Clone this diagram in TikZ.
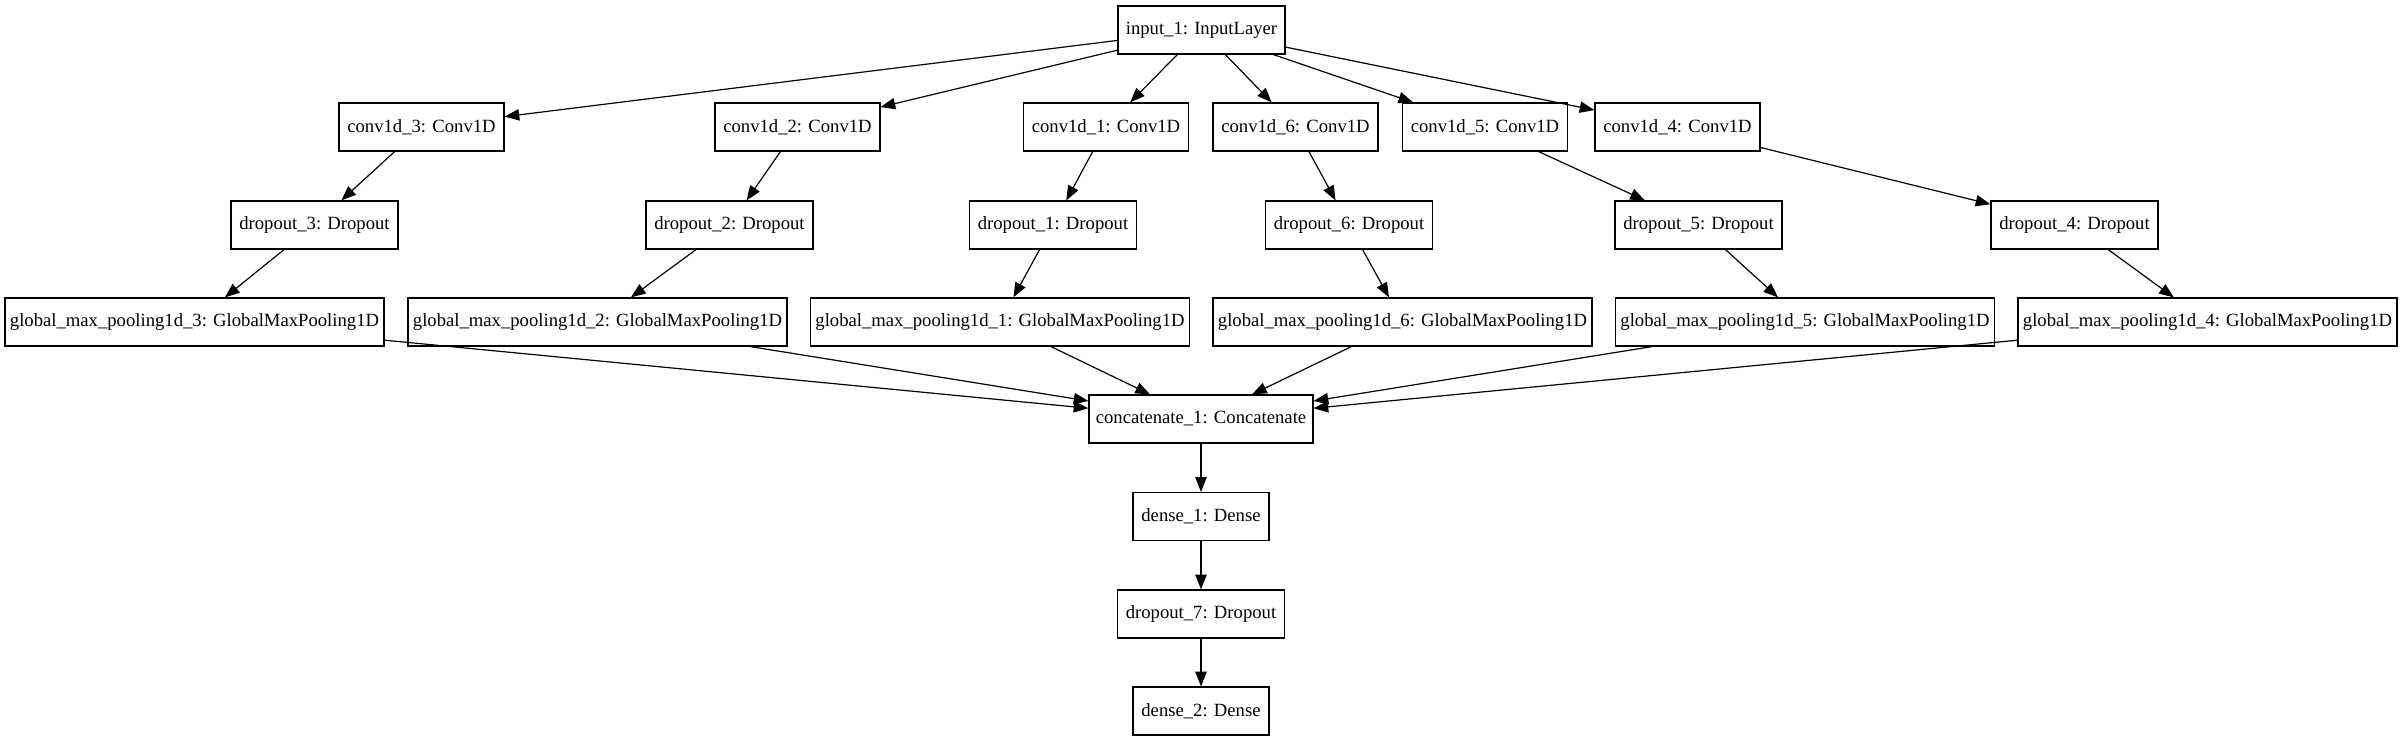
\documentclass[tikz,border=0pt]{standalone}
\usepackage{fontspec}
\setmainfont{Liberation Serif}
\usetikzlibrary{arrows.meta}
\tikzset{
  layer/.style={draw, line width=0.9pt, rectangle, inner sep=0pt, minimum height=36pt, font=\fontsize{14pt}{16pt}\selectfont},
  wconv/.style={layer, minimum width=123.75pt},
  wdrop/.style={layer, minimum width=125.25pt},
  wgmp/.style={layer, minimum width=284.25pt},
  wcat/.style={layer, minimum width=168pt},
  wdense/.style={layer, minimum width=102pt},
  edge/.style={line width=0.9pt, -{Triangle[length=11pt,width=8.5pt]}}
}
\begin{document}
\begin{tikzpicture}[x=0.75pt,y=-0.75pt]
\useasboundingbox (0,0) rectangle (2403,741);
\node[wdrop] (input) at (1201.5,30) {input\_1: InputLayer};
\node[wconv] (c3) at (421.5,127) {conv1d\_3: Conv1D};
\node[wconv] (c2) at (797.5,127) {conv1d\_2: Conv1D};
\node[wconv] (c1) at (1106,127) {conv1d\_1: Conv1D};
\node[wconv] (c6) at (1295.5,127) {conv1d\_6: Conv1D};
\node[wconv] (c5) at (1485,127) {conv1d\_5: Conv1D};
\node[wconv] (c4) at (1677.5,127) {conv1d\_4: Conv1D};
\node[wdrop] (d3) at (314.5,225) {dropout\_3: Dropout};
\node[wdrop] (d2) at (729.5,225) {dropout\_2: Dropout};
\node[wdrop] (d1) at (1053,225) {dropout\_1: Dropout};
\node[wdrop] (d6) at (1349,225) {dropout\_6: Dropout};
\node[wdrop] (d5) at (1698.5,225) {dropout\_5: Dropout};
\node[wdrop] (d4) at (2074.5,225) {dropout\_4: Dropout};
\node[wgmp] (g3) at (194.5,322) {global\_max\_pooling1d\_3: GlobalMaxPooling1D};
\node[wgmp] (g2) at (597.5,322) {global\_max\_pooling1d\_2: GlobalMaxPooling1D};
\node[wgmp] (g1) at (1000,322) {global\_max\_pooling1d\_1: GlobalMaxPooling1D};
\node[wgmp] (g6) at (1402.5,322) {global\_max\_pooling1d\_6: GlobalMaxPooling1D};
\node[wgmp] (g5) at (1805,322) {global\_max\_pooling1d\_5: GlobalMaxPooling1D};
\node[wgmp] (g4) at (2207.5,322) {global\_max\_pooling1d\_4: GlobalMaxPooling1D};
\node[wcat] (cat) at (1201,419) {concatenate\_1: Concatenate};
\node[wdense] (de1) at (1201,516.5) {dense\_1: Dense};
\node[wdrop] (d7) at (1201,614) {dropout\_7: Dropout};
\node[wdense] (de2) at (1201,711) {dense\_2: Dense};
\foreach \c in {c3,c2,c1,c6,c5,c4} \draw[edge] (input) -- (\c);
\draw[edge] (c3) -- (d3);
\draw[edge] (c2) -- (d2);
\draw[edge] (c1) -- (d1);
\draw[edge] (c6) -- (d6);
\draw[edge] (c5) -- (d5);
\draw[edge] (c4) -- (d4);
\draw[edge] (d3) -- (g3);
\draw[edge] (d2) -- (g2);
\draw[edge] (d1) -- (g1);
\draw[edge] (d6) -- (g6);
\draw[edge] (d5) -- (g5);
\draw[edge] (d4) -- (g4);
\foreach \g in {g3,g2,g1,g6,g5,g4} \draw[edge] (\g) -- (cat);
\draw[edge] (cat) -- (de1);
\draw[edge] (de1) -- (d7);
\draw[edge] (d7) -- (de2);
\end{tikzpicture}
\end{document}
